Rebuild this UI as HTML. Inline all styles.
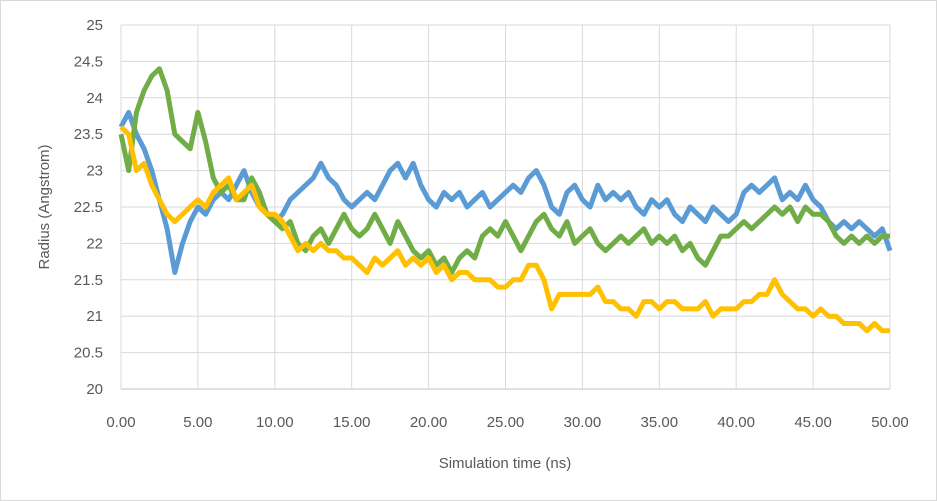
<!DOCTYPE html>
<html><head><meta charset="utf-8"><style>
body{margin:0;background:#fff;}
svg{display:block;font-family:"Liberation Sans",sans-serif;}
</style></head><body>
<svg id="chart" width="937" height="501">
<rect x="0.5" y="0.5" width="936" height="500" fill="#fff" stroke="#d9d9d9"/>
<g id="grid"></g><g id="series"></g><g id="labels"></g>
<text x="505" y="468" text-anchor="middle" font-size="15" fill="#595959">Simulation time (ns)</text>
<text x="0" y="0" transform="translate(49,207) rotate(-90)" text-anchor="middle" font-size="15" fill="#595959">Radius (Angstrom)</text>
</svg>
<script>
const xTicks=[0,5,10,15,20,25,30,35,40,45,50];
const yTicks=[20,20.5,21,21.5,22,22.5,23,23.5,24,24.5,25];
const times=[];for(let i=0;i<=100;i++)times.push(i*0.5);
const blue=[23.6,23.8,23.5,23.3,23.0,22.6,22.2,21.6,22.0,22.3,22.5,22.4,22.6,22.7,22.6,22.8,23.0,22.7,22.5,22.4,22.3,22.4,22.6,22.7,22.8,22.9,23.1,22.9,22.8,22.6,22.5,22.6,22.7,22.6,22.8,23.0,23.1,22.9,23.1,22.8,22.6,22.5,22.7,22.6,22.7,22.5,22.6,22.7,22.5,22.6,22.7,22.8,22.7,22.9,23.0,22.8,22.5,22.4,22.7,22.8,22.6,22.5,22.8,22.6,22.7,22.6,22.7,22.5,22.4,22.6,22.5,22.6,22.4,22.3,22.5,22.4,22.3,22.5,22.4,22.3,22.4,22.7,22.8,22.7,22.8,22.9,22.6,22.7,22.6,22.8,22.6,22.5,22.3,22.2,22.3,22.2,22.3,22.2,22.1,22.2,21.9];
const green=[23.5,23.0,23.8,24.1,24.3,24.4,24.1,23.5,23.4,23.3,23.8,23.4,22.9,22.7,22.8,22.6,22.6,22.9,22.7,22.4,22.3,22.2,22.3,22.0,21.9,22.1,22.2,22.0,22.2,22.4,22.2,22.1,22.2,22.4,22.2,22.0,22.3,22.1,21.9,21.8,21.9,21.7,21.8,21.6,21.8,21.9,21.8,22.1,22.2,22.1,22.3,22.1,21.9,22.1,22.3,22.4,22.2,22.1,22.3,22.0,22.1,22.2,22.0,21.9,22.0,22.1,22.0,22.1,22.2,22.0,22.1,22.0,22.1,21.9,22.0,21.8,21.7,21.9,22.1,22.1,22.2,22.3,22.2,22.3,22.4,22.5,22.4,22.5,22.3,22.5,22.4,22.4,22.3,22.1,22.0,22.1,22.0,22.1,22.0,22.1,22.1];
const yellow=[23.6,23.5,23.0,23.1,22.8,22.6,22.4,22.3,22.4,22.5,22.6,22.5,22.7,22.8,22.9,22.6,22.7,22.8,22.5,22.4,22.4,22.3,22.1,21.9,22.0,21.9,22.0,21.9,21.9,21.8,21.8,21.7,21.6,21.8,21.7,21.8,21.9,21.7,21.8,21.7,21.8,21.6,21.7,21.5,21.6,21.6,21.5,21.5,21.5,21.4,21.4,21.5,21.5,21.7,21.7,21.5,21.1,21.3,21.3,21.3,21.3,21.3,21.4,21.2,21.2,21.1,21.1,21.0,21.2,21.2,21.1,21.2,21.2,21.1,21.1,21.1,21.2,21.0,21.1,21.1,21.1,21.2,21.2,21.3,21.3,21.5,21.3,21.2,21.1,21.1,21.0,21.1,21.0,21.0,20.9,20.9,20.9,20.8,20.9,20.8,20.8];
const NS="http://www.w3.org/2000/svg";
const X=t=>121+(t/50)*769;
const Y=v=>389-(v-20)*72.8;
const grid=document.getElementById('grid'),ser=document.getElementById('series'),lab=document.getElementById('labels');
yTicks.forEach(v=>{
 const l=document.createElementNS(NS,'line');
 
 
 l.setAttribute('x1',121);l.setAttribute('x2',890);l.setAttribute('y1',Y(v));l.setAttribute('y2',Y(v));
 l.setAttribute('stroke',v===20?'#bfbfbf':'#d9d9d9');grid.appendChild(l);
 const t=document.createElementNS(NS,'text');
 
 
 t.setAttribute('x',103);t.setAttribute('y',Y(v)+5);t.setAttribute('text-anchor','end');t.setAttribute('font-size','15');t.setAttribute('fill','#595959');
 t.textContent=String(v);lab.appendChild(t);
});
xTicks.forEach(v=>{
 const l=document.createElementNS(NS,'line');
 
 
 l.setAttribute('x1',X(v));l.setAttribute('x2',X(v));l.setAttribute('y1',Y(25));l.setAttribute('y2',Y(20));
 l.setAttribute('stroke','#d9d9d9');grid.appendChild(l);
 const t=document.createElementNS(NS,'text');
 
 
 t.setAttribute('x',X(v));t.setAttribute('y',427);t.setAttribute('text-anchor','middle');t.setAttribute('font-size','15');t.setAttribute('fill','#595959');
 t.textContent=v.toFixed(2);lab.appendChild(t);
});
[[blue,'#5b9bd5','series-blue'],[green,'#70ad47','series-green'],[yellow,'#ffc000','series-yellow']].forEach(([d,c,n])=>{
 const p=document.createElementNS(NS,'polyline');
 
 
 p.setAttribute('points',d.map((v,i)=>X(times[i]).toFixed(1)+','+Y(v).toFixed(1)).join(' '));
 p.setAttribute('fill','none');p.setAttribute('stroke',c);p.setAttribute('stroke-width','5');p.setAttribute('stroke-linejoin','round');
 ser.appendChild(p);
});
</script>
</body></html>
